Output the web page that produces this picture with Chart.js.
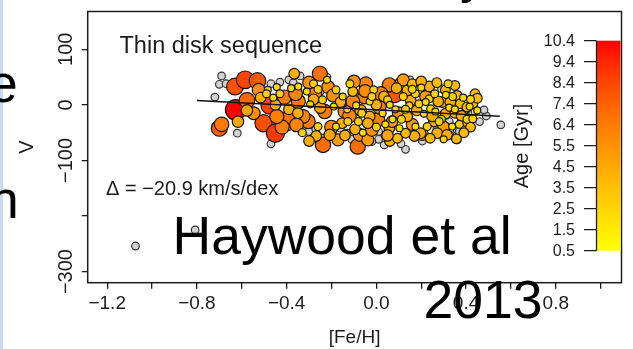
<!DOCTYPE html>
<html lang="en">
<head>
<meta charset="UTF-8">
<title>Thin disk sequence</title>
<script src="https://cdn.jsdelivr.net/npm/chart.js"></script>
<style>
  body { margin: 0; background: #fff; overflow: hidden; }
  .slide { position: relative; width: 633px; height: 349px; overflow: hidden; background: #fff; }
  .slide canvas { position: absolute; left: 0; top: 0; }
  .edge { position: absolute; left: 0; top: 0; width: 3px; height: 349px; background: #c9dbf2; }
  .big { position: absolute; font-family: "Liberation Sans", Arial, sans-serif; font-size: 53.5px; line-height: 53.5px; color: #000; white-space: nowrap; }
</style>
</head>
<body>
<div class="slide">
  <canvas id="chart" width="633" height="349"></canvas>
  <div class="edge"></div>
  <div class="big" style="left:-12px; top:57px">e</div>
  <div class="big" style="left:-11px; top:173px">n</div>
  <div class="big" style="left:460px; top:-53px">y</div>
  <div class="big" style="left:172.5px; top:209px">Haywood et al</div>
  <div class="big" style="left:423.5px; top:273px">2013</div>
</div>

<script>
  // stars with ages: metallicity, V velocity (km/s), age (Gyr)
  const diskFeH = [
    -0.63, -0.585, -0.53, -0.70, -0.69, -0.627, -0.577, -0.475, -0.503, -0.45,
    -0.252, -0.238, -0.083, 0.082, 0.058, -0.385, -0.42, -0.41, -0.444, -0.348,
    -0.304, -0.23, 0.006, -0.525, -0.547, -0.326, -0.356, -0.274, -0.215, -0.193,
    -0.142, -0.171, -0.075, -0.038, -0.053, 0.013, 0.11, 0.205, -0.105, -0.047,
    -0.12, -0.02, 0.10, 0.16, -0.30, -0.05, 0.22, 0.02, -0.20, 0.30,
    -0.36, 0.12, -0.10,
    -0.617, -0.577, -0.516, -0.366, -0.39, -0.208, 0.058, 0.293, 0.36, 0.374,
    0.404, 0.308, 0.257, 0.197, 0.271, 0.315, 0.357, 0.138, 0.153, 0.138,
    -0.105, -0.03, 0.034, 0.16, 0.236, 0.308, 0.276, 0.35, 0.40, 0.43,
    0.44, 0.17, 0.13, 0.06, 0.094, -0.038, -0.095, -0.153, -0.268, -0.30,
    -0.35, -0.25, -0.16, -0.07, 0.00, 0.07, 0.18, 0.25, 0.33, 0.38,
    0.42, 0.20, 0.27, 0.35, -0.28, -0.45, 0.09, -0.14, 0.05, 0.24,
    0.39, 0.45,
    -0.484, -0.444, 0.30, 0.212, 0.242, 0.416, -0.348, -0.31, -0.28, -0.22,
    -0.18, -0.15, -0.118, -0.09, -0.065, -0.03, -0.012, 0.028, 0.05, 0.085,
    0.112, 0.103, 0.147, 0.174, 0.20, 0.236, 0.263, 0.29, 0.325, 0.34,
    0.387, 0.404, 0.338, 0.227, 0.174, 0.072, -0.127, -0.18, -0.26, -0.295,
    -0.24, -0.19, -0.43, -0.46, -0.49, 0.45, 0.42, 0.37, 0.26, 0.12,
    0.0, -0.06, 0.19, -0.33, 0.32,
    -0.38, -0.26, -0.13, -0.02, 0.06, 0.13, 0.22, 0.28, 0.35, 0.43,
    0.31, 0.16, -0.08, 0.04
  ];
  const diskV = [
    33, 45, 43, -42, -35, -9, 8, -1, -33, -51,
    56, -72, -75, 19, 36, -21, -40, 14, -21, 6,
    -30, -12, -27, 27, -15, -21, -36, 20, 32, 17,
    -12, -63, -54, -63, 14, -4, 38, -53, 6, 38,
    -20, -45, -15, -35, 40, 25, 15, 20, -40, -40,
    20, 45, 42,
    -30, -10, 13, 56, -8, -54, -42, 5, 17, 2,
    -4, -16, -30, -51, -51, -54, -61, -21, 8, 26,
    24, -21, 15, 38, 33, 27, 6, -15, -30, 2,
    20, -56, -51, -65, -60, -33, -44, -33, -56, -65,
    -15, -5, 5, -10, 0, -30, -10, -20, 5, -20,
    -40, 42, 40, 35, 10, 0, 30, -55, -55, -60,
    -50, 12,
    27, 32, -62, -16, -7, -3, 33, 24, 38, 45,
    27, 15, 38, -1, -15, 6, 27, -15, 9, -8,
    -26, -42, -1, 20, 31, 11, -12, -26, -5, 15,
    13, -26, -39, -39, -39, -26, -30, -39, -39, 1,
    9, -3, 20, 13, 20, -10, 10, -35, 20, 15,
    -40, -50, 2, -50, 38,
    30, 28, -8, 15, 0, -8, 5, -30, -8, -25,
    18, 28, -30, -35
  ];
  const diskAge = [
    8.0, 8.5, 7.8, 7.5, 6.5, 10.4, 7.2, 8.5, 8.2, 8.8,
    6.8, 7.0, 7.0, 7.8, 6.3, 6.8, 6.3, 6.3, 6.3, 6.3,
    6.3, 6.3, 6.3, 5.5, 5.5, 6.0, 6.0, 6.0, 5.5, 5.5,
    5.5, 5.0, 5.5, 5.0, 6.0, 6.0, 5.5, 5.0, 6.0, 6.0,
    6.0, 5.5, 5.5, 5.0, 5.5, 5.5, 5.0, 6.3, 6.0, 5.0,
    6.0, 5.0, 5.5,
    4.7, 4.7, 4.2, 4.2, 4.2, 4.7, 4.2, 4.2, 3.7, 3.7,
    3.7, 4.2, 4.2, 4.2, 4.2, 4.2, 3.7, 4.2, 4.2, 4.2,
    3.7, 4.2, 4.2, 3.7, 4.2, 3.7, 4.2, 3.7, 4.2, 3.7,
    3.7, 4.2, 3.7, 4.2, 3.7, 4.2, 4.2, 4.2, 4.2, 4.2,
    4.2, 4.7, 4.2, 4.7, 4.2, 4.7, 4.2, 4.7, 4.2, 4.2,
    3.7, 4.2, 3.7, 3.7, 4.2, 4.2, 4.2, 4.2, 4.7, 3.7,
    3.7, 3.7,
    2.2, 2.2, 2.2, 2.2, 2.7, 2.2, 2.2, 2.2, 2.7, 2.2,
    2.7, 2.2, 2.7, 2.2, 2.7, 2.2, 2.7, 2.2, 2.7, 2.2,
    2.7, 2.2, 2.2, 2.7, 2.2, 2.7, 2.2, 2.7, 2.2, 2.7,
    2.2, 2.7, 2.2, 2.7, 2.2, 2.2, 2.7, 2.2, 2.7, 2.2,
    2.7, 2.2, 2.7, 2.2, 2.7, 2.2, 2.7, 2.7, 2.7, 2.7,
    2.7, 2.2, 2.7, 2.7, 2.7,
    2.2, 2.7, 2.2, 2.7, 2.2, 2.7, 2.2, 2.7, 2.2, 2.7,
    2.2, 2.7, 2.7, 2.2
  ];

  // stars without an age estimate
  const noAgeFeH = [
    -0.69, -0.70, -0.67, -0.72, -0.62, -0.47, -0.34, -0.47, -0.43, -0.39,
    -0.37, -0.30, -0.16, -0.13, -0.11, 0.01, 0.04, 0.01, 0.13, 0.17,
    0.035, 0.36, 0.36, 0.37, 0.40, 0.43, 0.44, 0.555, -1.074, -0.808,
    0.29, 0.23, 0.085, -0.06, -0.25, -0.35, -0.15, 0.325, 0.27, 0.205,
    0.07, -0.19, -0.27, -0.39, 0.49, 0.48, 0.39, -0.24, 0.11, 0.33,
    0.46, -0.02, 0.15, -0.22
  ];
  const noAgeV = [
    52, 37, 38, 14, -51, -70, 52, 38, 41, 45,
    40, -48, -42, -51, -62, -62, -56, -48, -80, 38,
    -72, -45, -63, -48, -19, -15, -12, -36, -254, -225,
    29, 24, 15, 24, 24, 27, 6, -30, -44, -65,
    -62, -56, -44, -39, -20, -9, -15, -60, -70, -55,
    -30, -66, 45, 50
  ];

  // V = fitZero + fitSlope * [Fe/H], over the fitted range
  const fitSlope = -20.9;
  const fitZero = -9.0;
  const fitRange = [-0.8, 0.55];

  const feTicks = [-1.2, -1.0, -0.8, -0.6, -0.4, -0.2, 0.0, 0.2, 0.4, 0.6, 0.8, 1.0];
  const feTickText = ['\u22121.2', '', '\u22120.8', '', '\u22120.4', '', '0.0', '', '0.4', '', '0.8', ''];
  const vTicks = [-300, -200, -100, 0, 100];
  const vTickText = ['\u2212300', '', '\u2212100', '0', '100'];
  const ageTickText = ['10.4', '9.4', '8.4', '7.4', '6.4', '5.5', '4.5', '3.5', '2.5', '1.5', '0.5'];

  const ageMax = parseFloat(ageTickText[0]);
  const ageMin = parseFloat(ageTickText[ageTickText.length - 1]);
  const FONT = '"Liberation Sans", Arial, sans-serif';
  const INK = '#1c1c1c';

  function ageFrac(a) {
    return (a - ageMin) / (ageMax - ageMin);
  }
  // red for the oldest stars, through orange, to yellow for the youngest
  function ageColor(a) {
    const g = Math.round(255 * Math.pow(1 - ageFrac(a), 0.8));
    return 'rgb(255,' + g + ',0)';
  }
  // older stars get bigger symbols
  function ageRadius(a) {
    return 1.5 + 8.8 * Math.pow(ageFrac(a), 0.85);
  }

  const diskPoints = diskFeH.map((x, i) => ({ x: x, y: diskV[i] }));
  const noAgePoints = noAgeFeH.map((x, i) => ({ x: x, y: noAgeV[i] }));
  const fitPoints = fitRange.map(x => ({ x: x, y: fitZero + fitSlope * x }));

  // frame, rotated y labels, annotations and the age colour bar
  const extras = {
    id: 'extras',
    afterDraw(chart) {
      const { ctx, chartArea: a, scales } = chart;
      ctx.save();
      ctx.strokeStyle = INK;
      ctx.lineWidth = 1.5;
      ctx.strokeRect(a.left, a.top, a.right - a.left, a.bottom - a.top);

      ctx.fillStyle = INK;
      ctx.font = '20px ' + FONT;
      ctx.textAlign = 'center';
      ctx.textBaseline = 'middle';
      vTicks.forEach((v, i) => {
        if (!vTickText[i]) return;
        ctx.save();
        ctx.translate(66, scales.y.getPixelForValue(v));
        ctx.rotate(-Math.PI / 2);
        ctx.fillText(vTickText[i], 0, 0);
        ctx.restore();
      });

      ctx.textAlign = 'left';
      ctx.textBaseline = 'alphabetic';
      ctx.font = '23.5px ' + FONT;
      ctx.fillText('Thin disk sequence', 119.5, 53.3);
      ctx.font = '20px ' + FONT;
      ctx.fillText('\u0394 = \u2212' + Math.abs(fitSlope).toFixed(1) + ' km/s/dex', 106, 195);

      // colour bar
      const barL = 596.5, barR = a.right - 1, barT = 40.7, barB = 250.7;
      const grad = ctx.createLinearGradient(0, barT, 0, barB);
      for (let k = 0; k <= 10; k++) {
        grad.addColorStop(k / 10, ageColor(ageMax - (ageMax - ageMin) * k / 10));
      }
      ctx.fillStyle = grad;
      ctx.fillRect(barL, barT, barR - barL, barB - barT);
      ctx.strokeStyle = INK;
      ctx.lineWidth = 1.3;
      ctx.beginPath();
      ctx.moveTo(barL, barT);
      ctx.lineTo(barL, barB);
      const step = (barB - barT) / (ageTickText.length - 1);
      ageTickText.forEach((t, i) => {
        const y = barT + i * step;
        ctx.moveTo(584, y);
        ctx.lineTo(barL, y);
      });
      ctx.stroke();
      ctx.fillStyle = INK;
      ctx.font = '16px ' + FONT;
      ctx.textAlign = 'right';
      ctx.textBaseline = 'middle';
      ageTickText.forEach((t, i) => ctx.fillText(t, 575, barT + i * step + 1));

      ctx.save();
      ctx.translate(522, 146);
      ctx.rotate(-Math.PI / 2);
      ctx.textAlign = 'center';
      ctx.font = '20px ' + FONT;
      ctx.fillText('Age [Gyr]', 0, 0);
      ctx.restore();
      ctx.restore();
    }
  };

  new Chart(document.getElementById('chart'), {
    type: 'scatter',
    data: {
      datasets: [
        {
          label: 'fit',
          data: fitPoints,
          showLine: true,
          borderColor: '#111',
          borderWidth: 1.4,
          pointRadius: 0,
          order: 0
        },
        {
          label: 'with age',
          data: diskPoints,
          pointRadius: diskAge.map(ageRadius),
          pointBackgroundColor: diskAge.map(ageColor),
          pointBorderColor: '#151515',
          pointBorderWidth: 1.2,
          order: 1
        },
        {
          label: 'no age',
          data: noAgePoints,
          pointRadius: 3.8,
          pointBackgroundColor: '#d2d2d2',
          pointBorderColor: '#333',
          pointBorderWidth: 1.2,
          order: 2
        }
      ]
    },
    options: {
      responsive: false,
      animation: false,
      events: [],
      layout: { padding: { top: 9.3, right: 5.3, left: 0, bottom: 0 } },
      plugins: { legend: { display: false }, tooltip: { enabled: false } },
      scales: {
        x: {
          type: 'linear',
          min: -1.287,
          max: 1.093,
          afterBuildTicks: s => { s.ticks = feTicks.map(v => ({ value: v })); },
          afterFit: s => { s.height = 66.3; },
          ticks: {
            autoSkip: false,
            maxRotation: 0,
            padding: 4,
            color: INK,
            font: { family: FONT, size: 19 },
            callback: (v, i) => feTickText[i]
          },
          grid: { drawOnChartArea: false, tickLength: 6, color: INK, lineWidth: 1.3 },
          border: { display: false },
          title: { display: true, text: '[Fe/H]', color: INK, font: { family: FONT, size: 19 }, padding: 0 }
        },
        y: {
          type: 'linear',
          min: -320,
          max: 168,
          afterBuildTicks: s => { s.ticks = vTicks.map(v => ({ value: v })); },
          afterFit: s => { s.width = 87.7; },
          ticks: { autoSkip: false, callback: () => '' },
          grid: { drawOnChartArea: false, tickLength: 6, color: INK, lineWidth: 1.3 },
          border: { display: false },
          title: { display: true, text: 'V', color: INK, font: { family: FONT, size: 20 }, padding: { top: 15 } }
        }
      }
    },
    plugins: [extras]
  });
</script>
</body>
</html>
